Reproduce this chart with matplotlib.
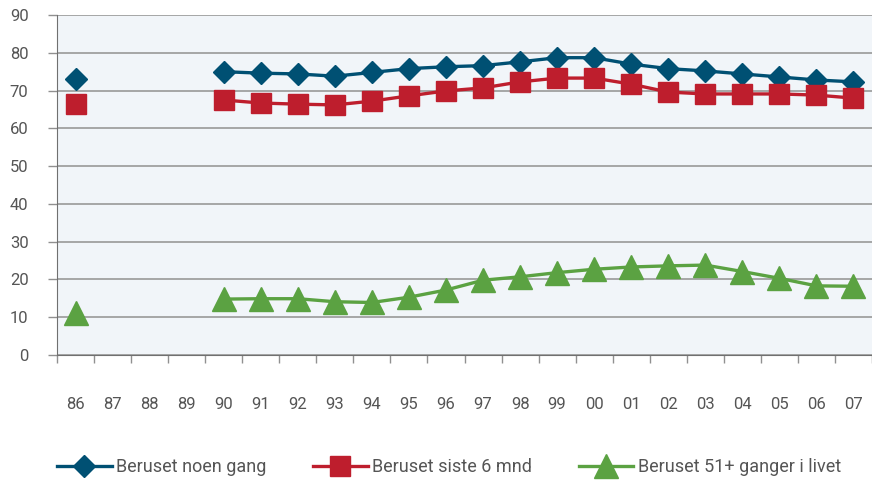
import numpy as np
import matplotlib.pyplot as plt
from matplotlib.ticker import FixedLocator

years = ['86', '87', '88', '89', '90', '91', '92', '93', '94', '95', '96',
         '97', '98', '99', '00', '01', '02', '03', '04', '05', '06', '07']
nan = np.nan
noen_gang = [73.0, nan, nan, nan, 75.0, 74.6, 74.4, 73.8, 74.8, 75.8, 76.3,
             76.6, 77.6, 78.7, 78.7, 77.0, 75.8, 75.2, 74.4, 73.6, 72.8, 72.3]
siste_6 = [66.4, nan, nan, nan, 67.5, 66.7, 66.4, 66.2, 67.2, 68.6, 69.9,
           70.7, 72.3, 73.3, 73.3, 71.7, 69.6, 69.1, 69.1, 69.1, 68.8, 68.0]
ganger_51 = [11.1, nan, nan, nan, 14.8, 14.9, 14.9, 14.1, 13.9, 15.3, 17.2,
             19.8, 20.7, 21.8, 22.7, 23.3, 23.6, 23.8, 22.1, 20.3, 18.3, 18.2]
labels = ['Beruset noen gang', 'Beruset siste 6 mnd', 'Beruset 51+ ganger i livet']

plt.rcParams['font.family'] = ['Roboto', 'DejaVu Sans']
txt = '#555555'

fig = plt.figure(figsize=(8.72, 4.8), dpi=100)
ax = fig.add_axes([57 / 872, 125 / 480, 1 - 57 / 872, 340 / 480])
ax.set_facecolor('#f1f5f9')

x = np.arange(len(years))
ax.plot(x, noen_gang, color='#005073', lw=2.4, marker='D', ms=11, label=labels[0])
ax.plot(x, siste_6, color='#be1e2d', lw=2.4, marker='s', ms=15, label=labels[1])
ax.plot(x, ganger_51, color='#5ba242', lw=2.4, marker='^', ms=17, label=labels[2])

ax.set_xlim(-0.5, len(years) - 0.5)
ax.set_ylim(0, 90)
ax.set_yticks(range(0, 91, 10))
ax.grid(axis='y', color='#a0a0a0', lw=1.3)
ax.set_axisbelow(True)

ax.set_xticks(x)
ax.set_xticklabels(years)
ax.xaxis.set_minor_locator(FixedLocator(np.arange(len(years) + 1) - 0.5))
ax.tick_params(axis='x', which='major', length=0, pad=30, labelsize=12, labelcolor=txt)
ax.tick_params(axis='x', which='minor', length=6, width=1, color='#909090', direction='out')
ax.tick_params(axis='y', length=6.5, width=1, color='#909090', pad=14,
               labelsize=12, labelcolor=txt)

for s in ['top', 'right']:
    ax.spines[s].set_visible(False)
ax.spines['left'].set_color('#707070')
ax.spines['bottom'].set_color('#707070')

fig.legend(loc='center', bbox_to_anchor=(0.515, 13 / 480), ncol=3, frameon=False,
           fontsize=13, labelcolor=txt, handlelength=3.0, handletextpad=0.25,
           columnspacing=2.6)

fig.savefig('out.png', dpi=100)
